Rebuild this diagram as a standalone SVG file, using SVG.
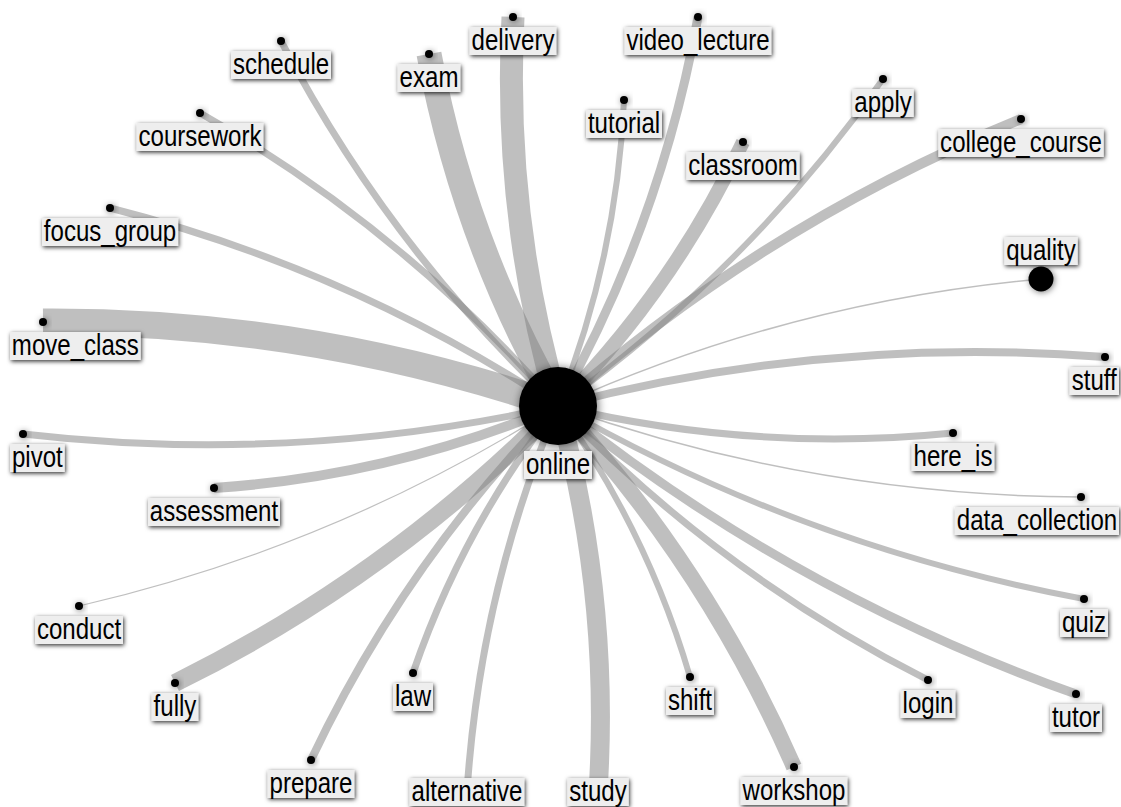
<svg xmlns="http://www.w3.org/2000/svg" width="1121" height="807" viewBox="0 0 1121 807">
<defs>
<style>
.e{fill:none;stroke:#808080;stroke-opacity:0.5;stroke-linecap:butt}
.d{fill:#000;filter:url(#cs)}
.lb{fill:#eeeeee;filter:url(#ls)}
.lt{font-family:"Liberation Sans",Arial,sans-serif;font-size:29px;fill:#000;text-anchor:middle}
</style>
<filter id="ls" x="-30%" y="-40%" width="160%" height="180%"><feDropShadow dx="1" dy="1.5" stdDeviation="2.2" flood-color="#000" flood-opacity="0.8"/></filter>
<filter id="cs" x="-60%" y="-60%" width="220%" height="220%"><feDropShadow dx="1" dy="1" stdDeviation="3" flood-color="#000" flood-opacity="0.5"/></filter>
<filter id="cs2" x="-40%" y="-40%" width="180%" height="180%"><feDropShadow dx="1" dy="1" stdDeviation="5" flood-color="#000" flood-opacity="0.6"/></filter>
</defs>
<rect width="1121" height="807" fill="#fff"/>
<g id="edges">
<path class="e" stroke-width="7" d="M281 41 A1374 1374 0 0 0 558 406"/>
<path class="e" stroke-width="25" d="M429 54 A1125 1125 0 0 0 558 406"/>
<path class="e" stroke-width="23" d="M513 17 A1179 1179 0 0 0 558 406"/>
<path class="e" stroke-width="9" d="M698 17 A1240 1240 0 0 1 558 406"/>
<path class="e" stroke-width="6" d="M624 100 A939 939 0 0 1 558 406"/>
<path class="e" stroke-width="14" d="M743 142 A966 966 0 0 1 558 406"/>
<path class="e" stroke-width="6" d="M883 79 A1383 1383 0 0 1 558 406"/>
<path class="e" stroke-width="10" d="M1021 119 A1630 1630 0 0 0 558 406"/>
<path class="e" stroke-width="7" d="M200 113 A1392 1392 0 0 1 558 406"/>
<path class="e" stroke-width="7" d="M110 208 A1470 1470 0 0 1 558 406"/>
<path class="e" stroke-width="1.5" d="M1041 279 A1494 1494 0 0 0 558 406"/>
<path class="e" stroke-width="27" d="M43 322 A1566 1566 0 0 1 558 406"/>
<path class="e" stroke-width="8" d="M1105 357 A1647 1647 0 0 0 558 406"/>
<path class="e" stroke-width="7" d="M23 434 A1611 1611 0 0 0 558 406"/>
<path class="e" stroke-width="7" d="M953 433 A1185 1185 0 0 1 558 406"/>
<path class="e" stroke-width="10" d="M214 488 A1062 1062 0 0 0 558 406"/>
<path class="e" stroke-width="1.5" d="M1081 497 A1590 1590 0 0 1 558 406"/>
<path class="e" stroke-width="1.2" d="M79 606 A1557 1557 0 0 0 558 406"/>
<path class="e" stroke-width="6" d="M1084 599 A1683 1683 0 0 1 558 406"/>
<path class="e" stroke-width="18" d="M175 683 A1416 1416 0 0 0 558 406"/>
<path class="e" stroke-width="7" d="M413 673 A912 912 0 0 1 558 406"/>
<path class="e" stroke-width="6" d="M690 677 A900 900 0 0 0 558 406"/>
<path class="e" stroke-width="7" d="M928 680 A1380 1380 0 0 1 558 406"/>
<path class="e" stroke-width="9" d="M1076 694 A1779 1779 0 0 1 558 406"/>
<path class="e" stroke-width="8" d="M311 760 A1296 1296 0 0 1 558 406"/>
<path class="e" stroke-width="7" d="M467 792 A1190 1190 0 0 1 558 406"/>
<path class="e" stroke-width="19" d="M598 792 A1164 1164 0 0 0 558 406"/>
<path class="e" stroke-width="16" d="M794 767 A1293 1293 0 0 0 558 406"/>
</g>
<g id="n-schedule"><circle class="d" cx="281" cy="41" r="4"/><rect class="lb" x="231" y="51" width="100" height="28"/><text class="lt" transform="translate(281,74) scale(0.83,1)">schedule</text></g>
<g id="n-exam"><circle class="d" cx="429" cy="54" r="4"/><rect class="lb" x="397.6" y="64" width="62.7" height="28"/><text class="lt" transform="translate(429,87) scale(0.83,1)">exam</text></g>
<g id="n-delivery"><circle class="d" cx="513" cy="17" r="4"/><rect class="lb" x="469.6" y="27" width="86.7" height="28"/><text class="lt" transform="translate(513,50) scale(0.83,1)">delivery</text></g>
<g id="n-video_lecture"><circle class="d" cx="698" cy="17" r="4"/><rect class="lb" x="624.6" y="27" width="146.7" height="28"/><text class="lt" transform="translate(698,50) scale(0.83,1)">video_lecture</text></g>
<g id="n-tutorial"><circle class="d" cx="624" cy="100" r="4"/><rect class="lb" x="586" y="110" width="76" height="28"/><text class="lt" transform="translate(624,133) scale(0.83,1)">tutorial</text></g>
<g id="n-classroom"><circle class="d" cx="743" cy="142" r="4"/><rect class="lb" x="686.3" y="152" width="113.3" height="28"/><text class="lt" transform="translate(743,175) scale(0.83,1)">classroom</text></g>
<g id="n-apply"><circle class="d" cx="883" cy="79" r="4"/><rect class="lb" x="852.3" y="89" width="61.4" height="28"/><text class="lt" transform="translate(883,112) scale(0.83,1)">apply</text></g>
<g id="n-college_course"><circle class="d" cx="1021" cy="119" r="4"/><rect class="lb" x="938.3" y="129" width="165.4" height="28"/><text class="lt" transform="translate(1021,152) scale(0.83,1)">college_course</text></g>
<g id="n-coursework"><circle class="d" cx="200" cy="113" r="4"/><rect class="lb" x="136.6" y="123" width="126.7" height="28"/><text class="lt" transform="translate(200,146) scale(0.83,1)">coursework</text></g>
<g id="n-focus_group"><circle class="d" cx="110" cy="208" r="4"/><rect class="lb" x="42" y="218" width="136.1" height="28"/><text class="lt" transform="translate(110,241) scale(0.83,1)">focus_group</text></g>
<g id="n-quality"><circle class="d" cx="1041" cy="279" r="12.5"/><rect class="lb" x="1004.3" y="237" width="73.4" height="28"/><text class="lt" transform="translate(1041,260) scale(0.83,1)">quality</text></g>
<g id="n-move_class"><circle class="d" cx="43" cy="322" r="4"/><rect class="lb" x="10" y="332" width="130.7" height="28"/><text class="lt" transform="translate(75.35,355) scale(0.83,1)">move_class</text></g>
<g id="n-stuff"><circle class="d" cx="1105" cy="357" r="4"/><rect class="lb" x="1069.6" y="367" width="49.4" height="28"/><text class="lt" transform="translate(1094.3,390) scale(0.83,1)">stuff</text></g>
<g id="n-pivot"><circle class="d" cx="23" cy="434" r="4"/><rect class="lb" x="10" y="444" width="54.7" height="28"/><text class="lt" transform="translate(37.35,467) scale(0.83,1)">pivot</text></g>
<g id="n-here_is"><circle class="d" cx="953" cy="433" r="4"/><rect class="lb" x="911.6" y="443" width="82.7" height="28"/><text class="lt" transform="translate(953,466) scale(0.83,1)">here_is</text></g>
<g id="n-assessment"><circle class="d" cx="214" cy="488" r="4"/><rect class="lb" x="148" y="498" width="132" height="28"/><text class="lt" transform="translate(214,521) scale(0.83,1)">assessment</text></g>
<g id="n-data_collection"><circle class="d" cx="1081" cy="497" r="4"/><rect class="lb" x="954.9" y="507" width="164.1" height="28"/><text class="lt" transform="translate(1037,530) scale(0.83,1)">data_collection</text></g>
<g id="n-conduct"><circle class="d" cx="79" cy="606" r="4"/><rect class="lb" x="35" y="616" width="88" height="28"/><text class="lt" transform="translate(79,639) scale(0.83,1)">conduct</text></g>
<g id="n-quiz"><circle class="d" cx="1084" cy="599" r="4"/><rect class="lb" x="1060" y="609" width="48" height="28"/><text class="lt" transform="translate(1084,632) scale(0.83,1)">quiz</text></g>
<g id="n-fully"><circle class="d" cx="175" cy="683" r="4"/><rect class="lb" x="151.6" y="693" width="46.7" height="28"/><text class="lt" transform="translate(175,716) scale(0.83,1)">fully</text></g>
<g id="n-law"><circle class="d" cx="413" cy="673" r="4"/><rect class="lb" x="393" y="683" width="40" height="28"/><text class="lt" transform="translate(413,706) scale(0.83,1)">law</text></g>
<g id="n-shift"><circle class="d" cx="690" cy="677" r="4"/><rect class="lb" x="666" y="687" width="48" height="28"/><text class="lt" transform="translate(690,710) scale(0.83,1)">shift</text></g>
<g id="n-login"><circle class="d" cx="928" cy="680" r="4"/><rect class="lb" x="900.6" y="690" width="54.7" height="28"/><text class="lt" transform="translate(928,713) scale(0.83,1)">login</text></g>
<g id="n-tutor"><circle class="d" cx="1076" cy="694" r="4"/><rect class="lb" x="1050" y="704" width="52" height="28"/><text class="lt" transform="translate(1076,727) scale(0.83,1)">tutor</text></g>
<g id="n-prepare"><circle class="d" cx="311" cy="760" r="4"/><rect class="lb" x="267.6" y="770" width="86.7" height="28"/><text class="lt" transform="translate(311,793) scale(0.83,1)">prepare</text></g>
<g id="n-alternative"><circle class="d" cx="467" cy="792" r="4"/><rect class="lb" x="409.6" y="778" width="114.7" height="28"/><text class="lt" transform="translate(467,801) scale(0.83,1)">alternative</text></g>
<g id="n-study"><circle class="d" cx="598" cy="792" r="4"/><rect class="lb" x="567.3" y="778" width="61.4" height="28"/><text class="lt" transform="translate(598,801) scale(0.83,1)">study</text></g>
<g id="n-workshop"><circle class="d" cx="794" cy="767" r="4"/><rect class="lb" x="740.6" y="777" width="106.7" height="28"/><text class="lt" transform="translate(794,800) scale(0.83,1)">workshop</text></g>
<g id="n-online"><circle cx="558" cy="406" r="39" fill="#000" filter="url(#cs2)"/><rect class="lb" x="524" y="451" width="68" height="28"/><text class="lt" transform="translate(558,474) scale(0.83,1)">online</text></g>
</svg>
